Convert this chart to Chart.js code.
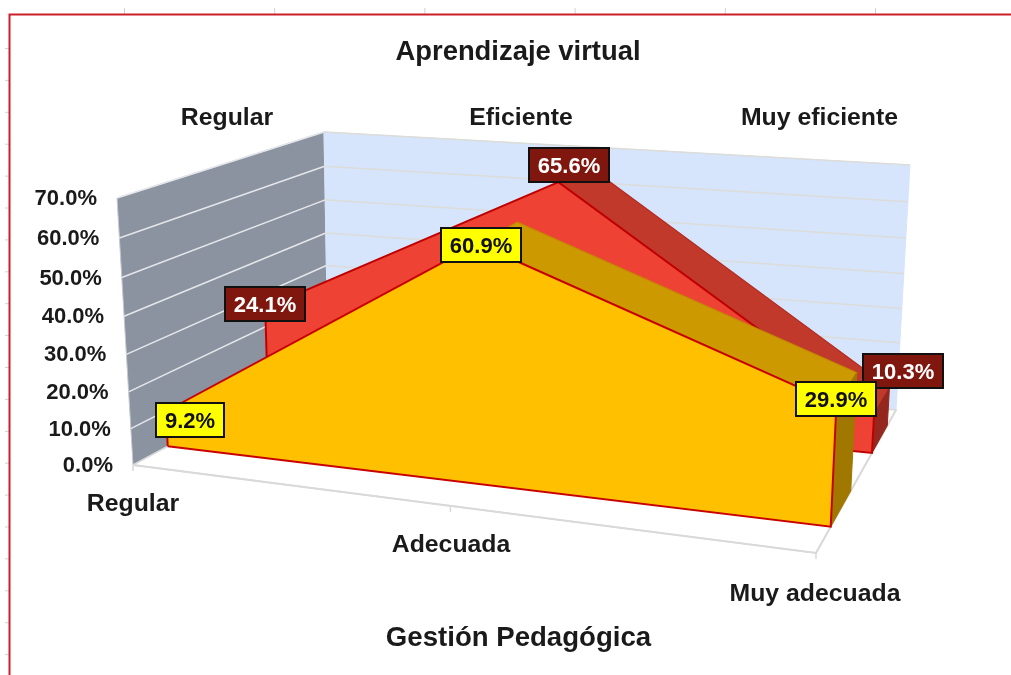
<!DOCTYPE html>
<html><head><meta charset="utf-8">
<style>html,body{margin:0;padding:0;background:#fff}canvas{display:block;filter:blur(0.45px)}</style>
<script src="https://cdn.jsdelivr.net/npm/chart.js@4/dist/chart.umd.min.js"></script>
</head><body><canvas id="c" width="1011" height="675"></canvas>
<script>
const categories = ['Regular','Adecuada','Muy adecuada'];
const depthLabels = ['Regular','Eficiente','Muy eficiente'];
const frontSeries = [9.2,60.9,29.9];
const backSeries = [24.1,65.6,10.3];
const valueTicks = [0,10,20,30,40,50,60,70];
const chartTitle = 'Aprendizaje virtual';
const axisTitle = 'Gestión Pedagógica';

/* projection of the 3D box on to the picture */
const MAXV = 70, HEIGHT_K = 0.056, DATA_GAIN = 1.025;
const U = [0,0.54,1], TICK_U = [0,0.516,1];
const floorQuad = [[133,465],[816,553],[896,410],[328,360]];
const roofQuad  = [[117,198],[828,266],[910,165],[324,132]];
function homography(q){
  const [[x0,y0],[x1,y1],[x2,y2],[x3,y3]] = q;
  const dx1=x1-x2,dx2=x3-x2,dx3=x0-x1+x2-x3,dy1=y1-y2,dy2=y3-y2,dy3=y0-y1+y2-y3;
  const den=dx1*dy2-dx2*dy1, g=(dx3*dy2-dx2*dy3)/den, h=(dx1*dy3-dx3*dy1)/den;
  const a=x1-x0+g*x1,b=x3-x0+h*x3,d=y1-y0+g*y1,e=y3-y0+h*y3;
  return (u,v)=>{const w=g*u+h*v+1;return [(a*u+b*v+x0)/w,(d*u+e*v+y0)/w];};
}
const hFloor=homography(floorQuad), hRoof=homography(roofQuad);
function at(u,v,t){
  const f=hFloor(u,v), r=hRoof(u,v);
  return {x:f[0]+(r[0]-f[0])*t, y:f[1]+(r[1]-f[1])*t};
}
function proj(u,v,val){ const s=val/MAXV; return at(u,v,s*(1-HEIGHT_K)/(1-HEIGHT_K*s)); }
function projData(u,v,val){ return at(u,v,DATA_GAIN*val/MAXV); }
const FRONT_DEPTH=[0.15,0.375], BACK_DEPTH=[0.645,0.865];
const GRID='#d9d9d9';
const list=[];
function face(pts,fill,stroke,w){
  list.push({data:[...pts,pts[0]],showLine:true,fill:'shape',backgroundColor:fill,borderColor:stroke,borderWidth:w,pointRadius:0,tension:0});
}
function line(pts,stroke,w){
  list.push({data:pts,showLine:true,fill:false,borderColor:stroke,borderWidth:w,pointRadius:0,tension:0});
}
/* walls + floor */
face([proj(0,0,0),proj(0,1,0),proj(0,1,MAXV),proj(0,0,MAXV)],'#8b93a0','#c4c8ce',1);
face([proj(0,1,0),proj(1,1,0),proj(1,1,MAXV),proj(0,1,MAXV)],'#d6e5fc','#d6e5fc',1);
face([proj(0,0,0),proj(1,0,0),proj(1,1,0),proj(0,1,0)],'#ffffff',GRID,1.5);
valueTicks.forEach(t=>{ if(t>0) line([proj(0,0,t),proj(0,1,t)],'#e4e6ea',1.5); });
valueTicks.forEach(t=>{ if(t>0) line([proj(0,1,t),proj(1,1,t)],'#dcdcd8',1.5); });
line([proj(0,0,0),proj(1,0,0),proj(1,1,0)],GRID,2);
function tick(u){const p=proj(u,0,0);line([p,{x:p.x,y:p.y+6}],GRID,1.5);}
TICK_U.forEach(tick);
function series(vals,depth,c){
  const [vf,vb]=depth;
  const f=vals.map((val,i)=>projData(U[i],vf,val)), b=vals.map((val,i)=>projData(U[i],vb,val));
  face([f[1],b[1],b[2],f[2]],c.top,c.backEdge,1.2);
  face([f[2],b[2],proj(1,vb,0),proj(1,vf,0)],c.side,c.side,1);
  face([proj(0,vf,0),f[0],f[1],f[2],proj(1,vf,0)],c.front,c.edge,2);
}
series(backSeries,BACK_DEPTH,{front:'#ee4235',top:'#c0392b',side:'#94281e',edge:'#c00000',backEdge:'#b32a20'});
series(frontSeries,FRONT_DEPTH,{front:'#ffc000',top:'#cc9900',side:'#a07800',edge:'#c80000',backEdge:'#c48a00'});
list.forEach((d,i)=>d.order=list.length-i);

const FONT='"Liberation Sans", Arial, sans-serif';
const TEXT='#1a1a1a';
const labelOffset={front:[[24,9],[3,1.5],[0,-5.5]],back:[[0,-4],[11,-17],[29,-42.5]]};
const overlay={id:'overlay',
  beforeDatasetsDraw(ch){
    const c=ch.ctx;c.save();
    c.strokeStyle='#d0d0d0';c.lineWidth=1;c.beginPath();
    for(let x=124.5;x<1011;x+=150.2){c.moveTo(x,8);c.lineTo(x,14);}
    for(let y=48.5;y<675;y+=31.9){c.moveTo(5,y);c.lineTo(9,y);}
    c.stroke();
    c.strokeStyle='#cb1f2a';c.lineWidth=2;c.beginPath();c.moveTo(9.5,675);c.lineTo(9.5,14.5);c.lineTo(1011,14.5);c.stroke();
    c.restore();
  },
  afterDatasetsDraw(ch){
    const c=ch.ctx,X=ch.scales.x,Y=ch.scales.y;c.save();
    c.textBaseline='middle';c.fillStyle=TEXT;
    const put=(s,x,y,size,al)=>{c.font=`bold ${size}px ${FONT}`;c.textAlign=al||'center';c.fillText(s,x,y);};
    put(chartTitle,518,52,27.4);
    put(axisTitle,518.5,638,27.6);
    const dx=[227,521,819.5];
    depthLabels.forEach((s,i)=>put(s,dx[i],118,24.8));
    const cp=[[133,504],[451,545],[815,594]];
    categories.forEach((s,i)=>put(s,cp[i][0],cp[i][1],24.8));
    valueTicks.forEach(t=>{
      const p=proj(0,0,t);
      put(t.toFixed(1)+'%',X.getPixelForValue(p.x)-20,Y.getPixelForValue(p.y)+1,22,'right');
    });
    const box=(val,p,off,bg,fg)=>{
      const s=val.toFixed(1)+'%';
      c.font=`bold 22px ${FONT}`;
      const w=Math.round(c.measureText(s).width+18),h=34;
      const cx=Math.round(X.getPixelForValue(p.x)+off[0]),cy=Math.round(Y.getPixelForValue(p.y)+off[1]);
      c.fillStyle=bg;c.fillRect(cx-w/2,cy-h/2,w,h);
      c.strokeStyle='#111';c.lineWidth=2;c.strokeRect(cx-w/2,cy-h/2,w,h);
      c.fillStyle=fg;c.textAlign='center';c.fillText(s,cx,cy+2);
    };
    backSeries.forEach((v,i)=>box(v,projData(U[i],BACK_DEPTH[0],v),labelOffset.back[i],'#7f170f','#fff'));
    frontSeries.forEach((v,i)=>box(v,projData(U[i],FRONT_DEPTH[0],v),labelOffset.front[i],'#ffff00','#111'));
    c.restore();
  }};
new Chart(document.getElementById('c'),{
  type:'scatter',
  data:{datasets:list},
  plugins:[overlay],
  options:{responsive:false,animation:false,devicePixelRatio:1,
    layout:{padding:0},
    plugins:{legend:{display:false},tooltip:{enabled:false},title:{display:false}},
    scales:{x:{type:'linear',display:false,min:0,max:1011},y:{type:'linear',display:false,min:0,max:675,reverse:true}}
  }
});
</script></body></html>
